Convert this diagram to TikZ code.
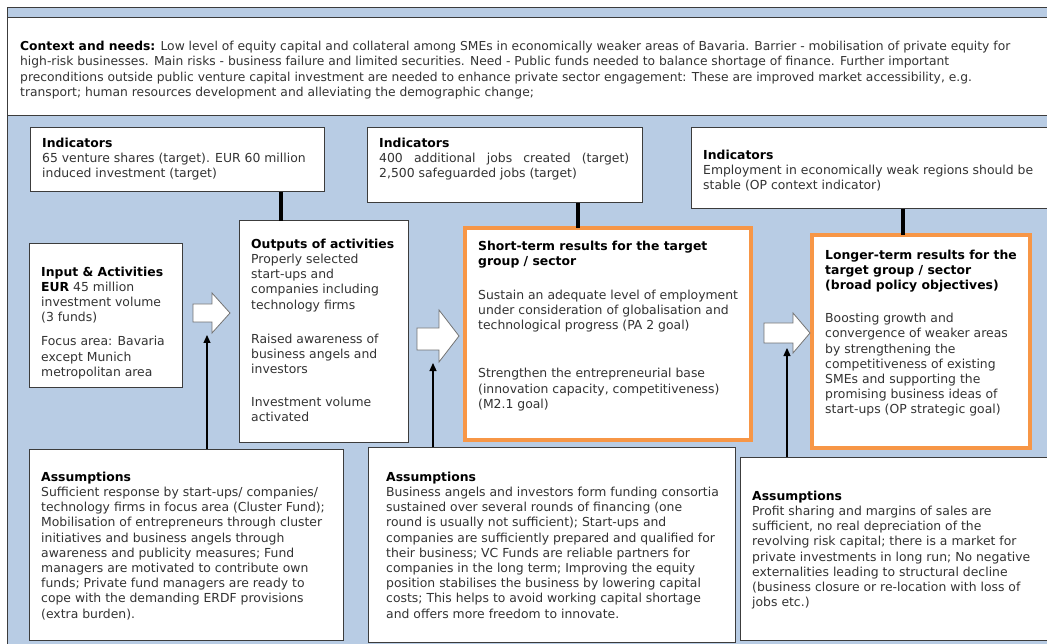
\documentclass[tikz,border=0pt]{standalone}
\usepackage{fontspec}
\setmainfont{DejaVu Sans}
\usetikzlibrary{arrows.meta}
\definecolor{panelblue}{HTML}{B8CCE4}
\definecolor{resorange}{HTML}{F79646}
\definecolor{edgegray}{HTML}{3C3C3C}
\definecolor{bodytext}{HTML}{333333}
\newcommand\hd[1]{{\bfseries\color{black}#1}}

\begin{document}
\begin{tikzpicture}[x=1pt,y=-1pt,
  box/.style={draw=edgegray, line width=1pt, fill=white, inner sep=0pt, outer sep=0pt, anchor=north west},
  resbox/.style={draw=resorange, line width=4pt, fill=white, inner sep=0pt, outer sep=0pt, anchor=north west},
  txt/.style={anchor=north west, align=left, inner sep=0pt, text=bodytext, font=\fontsize{12.4}{15.2}\selectfont},
  ctxt/.style={txt, font=\fontsize{12.3}{15.4}\selectfont},
  link/.style={line width=4pt, draw=black},
  uparrow/.style={line width=1.2pt, draw=black, -{Triangle[length=8pt,width=7pt]}},
  blockarrow/.style={draw=black!55, fill=white, line width=0.8pt, line join=miter}
]
\clip (0,0) rectangle (1047,644);
\fill[white] (0,0) rectangle (1047,644);

% panel and frame
\fill[panelblue] (7,8) rectangle (1060,650);
\draw[edgegray, line width=1pt] (7,650) -- (7,8) -- (1060,8);

% context strip
\node[box, minimum width=1060pt, minimum height=98pt] (ctx) at (7,18) {};
\node[ctxt] (ctx-t) at (20,41) {\hd{Context and needs:} Low level of equity capital and collateral among SMEs in economically weaker areas of Bavaria. Barrier - mobilisation of private equity for\\
high-risk businesses. Main risks - business failure and limited securities. Need - Public funds needed to balance shortage of finance. Further important\\
preconditions outside public venture capital investment are needed to enhance private sector engagement: These are improved market accessibility, e.g.\\
transport; human resources development and alleviating the demographic change;};

% indicator boxes
\node[box, minimum width=294pt, minimum height=64pt] (ind1) at (30,128) {};
\node[txt] (ind1-t) at (42,137.6) {\hd{Indicators}\\65 venture shares (target). EUR 60 million\\induced investment (target)};

\node[box, minimum width=275pt, minimum height=75pt] (ind2) at (367,128) {};
\node[txt] (ind2-t) at (379,137.6) {\hd{Indicators}\\\makebox[250pt][s]{400 additional jobs created (target)}\\2,500 safeguarded jobs (target)};

\node[box, minimum width=370pt, minimum height=81pt] (ind3) at (691,128) {};
\node[txt] (ind3-t) at (703,149.6) {\hd{Indicators}\\Employment in economically weak regions should be\\stable (OP context indicator)};

% chain boxes
\node[box, minimum width=153pt, minimum height=143pt] (inp) at (29,244) {};
\node[txt] (inp-t) at (41,266.6) {\hd{Input \& Activities}\\\hd{EUR} 45 million\\investment volume\\(3 funds)\\[8.8pt]Focus area: Bavaria\\except Munich\\metropolitan area};

\node[box, minimum width=169pt, minimum height=221pt] (out) at (239,221) {};
\node[txt] (out-t) at (251,238.6) {\hd{Outputs of activities}\\Properly selected\\start-ups and\\companies including\\technology firms\\[18.8pt]Raised awareness of\\business angels and\\investors\\[17.8pt]Investment volume\\activated};

\node[resbox, minimum width=286pt, minimum height=212pt] (short) at (465,228) {};
\node[txt] (short-t) at (478,240.6) {\hd{Short-term results for the target}\\\hd{group / sector}\\[18.8pt]Sustain an adequate level of employment\\under consideration of globalisation and\\technological progress (PA 2 goal)\\[32.8pt]Strengthen the entrepreneurial base\\(innovation capacity, competitiveness)\\(M2.1 goal)};

\node[resbox, minimum width=218pt, minimum height=213pt] (long) at (812,235) {};
\node[txt] (long-t) at (825,249.6) {\hd{Longer-term results for the}\\\hd{target group / sector}\\\hd{(broad policy objectives)}\\[17.8pt]Boosting growth and\\convergence of weaker areas\\by strengthening the\\competitiveness of existing\\SMEs and supporting the\\promising business ideas of\\start-ups (OP strategic goal)};

% assumption boxes
\node[box, minimum width=314pt, minimum height=191pt] (as1) at (29,449) {};
\node[txt] (as1-t) at (41,471.6) {\hd{Assumptions}\\Sufficient response by start-ups/ companies/\\technology firms in focus area (Cluster Fund);\\Mobilisation of entrepreneurs through cluster\\initiatives and business angels through\\awareness and publicity measures; Fund\\managers are motivated to contribute own\\funds; Private fund managers are ready to\\cope with the demanding ERDF provisions\\(extra burden).};

\node[box, minimum width=367pt, minimum height=195pt] (as2) at (368,447) {};
\node[txt] (as2-t) at (386,471.6) {\hd{Assumptions}\\Business angels and investors form funding consortia\\sustained over several rounds of financing (one\\round is usually not sufficient); Start-ups and\\companies are sufficiently prepared and qualified for\\their business; VC Funds are reliable partners for\\companies in the long term; Improving the equity\\position stabilises the business by lowering capital\\costs; This helps to avoid working capital shortage\\and offers more freedom to innovate.};

\node[box, minimum width=320pt, minimum height=183pt] (as3) at (740,457) {};
\node[txt] (as3-t) at (752,490.6) {\hd{Assumptions}\\Profit sharing and margins of sales are\\sufficient, no real depreciation of the\\revolving risk capital; there is a market for\\private investments in long run; No negative\\externalities leading to structural decline\\(business closure or re-location with loss of\\jobs etc.)};

% indicator links
\coordinate (k1) at (281,0);
\coordinate (k2) at (578,0);
\coordinate (k3) at (903,0);
\draw[link] (ind1.south -| k1) -- (out.north -| k1);
\draw[link] (ind2.south -| k2) -- (short.north -| k2);
\draw[link] (ind3.south -| k3) -- (long.north -| k3);

% block arrows between the stages
\draw[blockarrow] (193,304) -- (212,304) -- (212,293) -- (230,313) -- (212,333) -- (212,322) -- (193,322) -- cycle;
\draw[blockarrow] (417,328) -- (439,328) -- (439,310) -- (459,336) -- (439,362) -- (439,350) -- (417,350) -- cycle;
\draw[blockarrow] (764,323) -- (793,323) -- (793,313) -- (810,333) -- (793,353) -- (793,343) -- (764,343) -- cycle;

% assumption arrows
\coordinate (p1) at (207,335);
\coordinate (p2) at (433,363);
\coordinate (p3) at (787,348);
\draw[uparrow] (as1.north -| p1) -- (p1);
\draw[uparrow] (as2.north -| p2) -- (p2);
\draw[uparrow] (as3.north -| p3) -- (p3);
\end{tikzpicture}
\end{document}
